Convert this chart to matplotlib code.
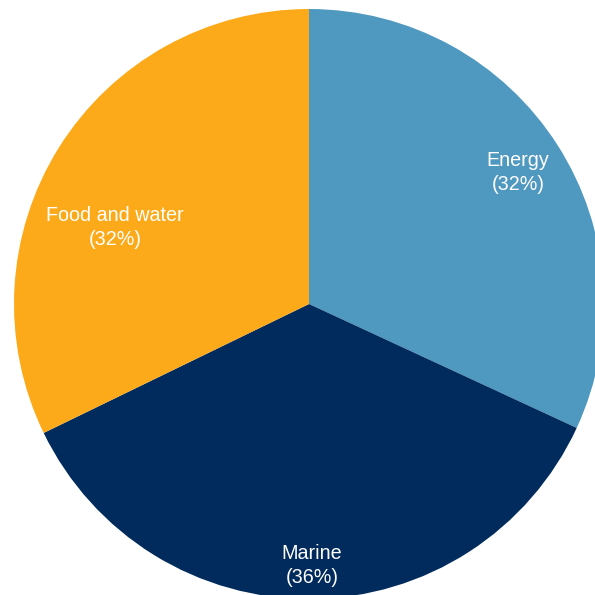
import numpy as np
import matplotlib
matplotlib.use("Agg")
import matplotlib.pyplot as plt

categories = ["Energy", "Marine", "Food and water"]
shares = [31.9, 35.9, 32.2]
colors = ["#4F98C0", "#002B5C", "#FCAA1A"]

# label placement (style): radius fraction and angle offset from wedge middle
label_r = [0.841, 0.878, 0.71]
label_dang = [0.12, 0.16, 9.84]

W = H = 595
dpi = 100
fig = plt.figure(figsize=(W / dpi, H / dpi), dpi=dpi)
ax = fig.add_axes([0, 0, 1, 1])
cx, cy, R = 309, 304, 295

wedges, _ = ax.pie(shares, colors=colors, startangle=90, counterclock=False,
                   radius=1.0, center=(0, 0), frame=True,
                   wedgeprops=dict(linewidth=0))
ax.set_xlim(-cx / R, (W - cx) / R)
ax.set_ylim(-(H - cy) / R, cy / R)
ax.set_aspect("auto")
ax.axis("off")

for w, name, val, r, da in zip(wedges, categories, shares, label_r, label_dang):
    mid = np.deg2rad((w.theta1 + w.theta2) / 2 + da)
    ax.annotate(f"{name}\n({round(val)}%)", xy=(r * np.cos(mid), r * np.sin(mid)),
                xytext=(0, -2.5), textcoords="offset pixels",
                ha="center", va="center", color="white", fontsize=14.2,
                family=["Liberation Sans", "DejaVu Sans"], linespacing=1.3)

fig.savefig("out.png", dpi=dpi, facecolor="white")
